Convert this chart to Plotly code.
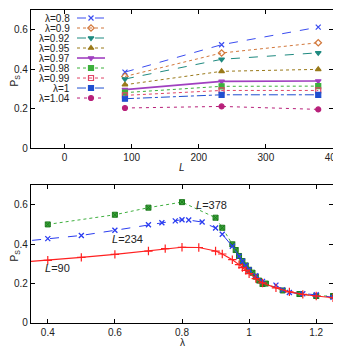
import plotly.graph_objects as go

# top panel: P_S vs L for several lambda
L_vals = [90, 234, 378]
lam_labels = ['λ=0.8', 'λ=0.9', 'λ=0.92', 'λ=0.95', 'λ=0.97', 'λ=0.98', 'λ=0.99', 'λ=1', 'λ=1.04']
ps_08 = [0.385, 0.524, 0.613]
ps_09 = [0.363, 0.482, 0.534]
ps_092 = [0.350, 0.450, 0.483]
ps_095 = [0.321, 0.389, 0.399]
ps_097 = [0.296, 0.338, 0.340]
ps_098 = [0.281, 0.313, 0.314]
ps_099 = [0.267, 0.292, 0.292]
ps_1 = [0.250, 0.270, 0.270]
ps_104 = [0.203, 0.211, 0.196]
top_series = [ps_08, ps_09, ps_092, ps_095, ps_097, ps_098, ps_099, ps_1, ps_104]

# bottom panel: P_S vs lambda for three sizes
lam_90 = [0.3, 0.4, 0.5, 0.6, 0.7, 0.75, 0.8, 0.85, 0.9, 0.92, 0.95, 0.97, 0.98, 0.99, 1.0,
          1.02, 1.04, 1.08, 1.12, 1.16, 1.2, 1.25]
ps_90 = [0.305, 0.318, 0.333, 0.348, 0.365, 0.377, 0.384, 0.383, 0.365, 0.350, 0.321, 0.296,
         0.281, 0.267, 0.250, 0.225, 0.203, 0.178, 0.158, 0.145, 0.137, 0.128]
lam_234 = [0.3, 0.4, 0.5, 0.6, 0.7, 0.74, 0.78, 0.8, 0.82, 0.86, 0.9, 0.92, 0.95, 0.97, 0.98,
           0.99, 1.0, 1.02, 1.04, 1.08, 1.1, 1.12, 1.16, 1.2, 1.25]
ps_234 = [0.41, 0.428, 0.444, 0.470, 0.498, 0.508, 0.518, 0.524, 0.522, 0.512, 0.482, 0.450,
          0.389, 0.338, 0.313, 0.292, 0.270, 0.240, 0.211, 0.192, 0.168, 0.155, 0.148, 0.143, 0.130]
lam_378 = [0.4, 0.6, 0.7, 0.8, 0.9, 0.92, 0.95, 0.96, 0.97, 0.98, 0.99, 1.0, 1.01, 1.02, 1.03,
           1.04, 1.05, 1.1, 1.15, 1.2, 1.25]
ps_378 = [0.500, 0.549, 0.585, 0.613, 0.534, 0.483, 0.399, 0.370, 0.340, 0.314, 0.292, 0.270,
          0.255, 0.235, 0.215, 0.198, 0.200, 0.165, 0.147, 0.137, 0.137]

styles = [
    dict(color='#3a4cf0', dash='dash', symbol='x-thin'),
    dict(color='#d2773a', dash='dot', symbol='diamond-open'),
    dict(color='#1f8a80', dash='dash', symbol='triangle-down'),
    dict(color='#9a7a1a', dash='dot', symbol='triangle-up'),
    dict(color='#a040c0', dash='solid', symbol='triangle-down'),
    dict(color='#3cb03c', dash='dot', symbol='square-x'),
    dict(color='#e04466', dash='dot', symbol='square-open'),
    dict(color='#1f4fd0', dash='dashdot', symbol='square'),
    dict(color='#b8207a', dash='3px,4px', symbol='circle'),
]

fig = go.Figure()
for ys, st in zip(top_series, styles):
    w = 1.6 if st['dash'] == 'solid' else 1
    fig.add_trace(go.Scatter(
        x=L_vals, y=ys, mode='lines+markers', xaxis='x', yaxis='y', showlegend=False,
        line=dict(color=st['color'], dash=st['dash'], width=w),
        marker=dict(symbol=st['symbol'], size=5, color=st['color'],
                    line=dict(color=st['color'], width=1.2))))

# hand-drawn legend (gnuplot style: label left, sample right)
for i, (lab, st) in enumerate(zip(lam_labels, styles)):
    yy = 8 + 10 * i
    w = 1.6 if st['dash'] == 'solid' else 1
    fig.add_trace(go.Scatter(
        x=[46, 74], y=[yy, yy], mode='lines', xaxis='x3', yaxis='y3', showlegend=False,
        line=dict(color=st['color'], dash=st['dash'], width=w), hoverinfo='skip'))
    fig.add_trace(go.Scatter(
        x=[60], y=[yy], mode='markers', xaxis='x3', yaxis='y3', showlegend=False,
        marker=dict(symbol=st['symbol'], size=5, color=st['color'],
                    line=dict(color=st['color'], width=1.2)), hoverinfo='skip'))
    fig.add_annotation(x=41, y=yy, xref='x3', yref='y3', text=lab, showarrow=False,
                       xanchor='right', yanchor='middle', font=dict(size=10, color='#222'))

fig.add_trace(go.Scatter(x=lam_378, y=ps_378, mode='lines+markers', xaxis='x2', yaxis='y2',
                         showlegend=False, line=dict(color='#40b040', dash='dot', width=1),
                         marker=dict(symbol='square-x', size=5, color='#3aa83a',
                                     line=dict(color='#1e7a1e', width=1))))
fig.add_trace(go.Scatter(x=lam_234, y=ps_234, mode='lines+markers', xaxis='x2', yaxis='y2',
                         showlegend=False, line=dict(color='#2a3cf0', dash='dash', width=1),
                         marker=dict(symbol='x-thin', size=5, line=dict(color='#2a3cf0', width=1.3))))
fig.add_trace(go.Scatter(x=lam_90, y=ps_90, mode='lines+markers', xaxis='x2', yaxis='y2',
                         showlegend=False, line=dict(color='#ff2020', width=1.2),
                         marker=dict(symbol='cross-thin', size=6, line=dict(color='#ff2020', width=1.2))))

for txt, xx, yy in [('<i>L</i>=378', 0.889, 0.60), ('<i>L</i>=234', 0.638, 0.428),
                    ('<i>L</i>=90', 0.429, 0.281)]:
    fig.add_annotation(x=xx, y=yy, xref='x2', yref='y2', text=txt, showarrow=False,
                       font=dict(size=11, color='#222'))

# axis titles placed as in the original (gnuplot layout)
for txt, xx, yy, rot in [('<i>L</i>', 0.5, 0.497, 0), ('λ', 0.5, -0.062, 0),
                         ('P<sub>S</sub>', -0.052, 0.776, -90), ('P<sub>S</sub>', -0.052, 0.217, -90)]:
    fig.add_annotation(x=xx, y=yy, xref='paper', yref='paper', text=txt, showarrow=False,
                       textangle=rot, xanchor='center', yanchor='middle',
                       font=dict(size=10, color='#222'))

ax = dict(showline=True, linecolor='black', linewidth=1.2, mirror='ticks', ticks='inside',
          ticklen=4, tickcolor='black', showgrid=False, zeroline=False, automargin=False,
          ticklabeloverflow='allow', tickfont=dict(size=10, color='#222'))
# the page body adds an 8px margin, so the figure is 8px smaller and shifted
fig.update_layout(
    width=333, height=342, plot_bgcolor='white', paper_bgcolor='white',
    margin=dict(l=23, r=8, t=2, b=27),
    font=dict(family='Liberation Sans, Arial, sans-serif', color='#222'),
    xaxis=dict(ax, domain=[0, 1], anchor='y', range=[-50, 400], dtick=100),
    yaxis=dict(ax, domain=[0.559, 1], anchor='x', range=[0, 0.7], dtick=0.2),
    xaxis2=dict(ax, domain=[0, 1], anchor='y2', range=[0.35, 1.25], dtick=0.2),
    yaxis2=dict(ax, domain=[0, 0.441], anchor='x2', range=[0, 0.7], dtick=0.2),
    xaxis3=dict(overlaying='x', anchor='y3', range=[0, 302], visible=False, fixedrange=True),
    yaxis3=dict(overlaying='y', anchor='x3', range=[138, 0], visible=False, fixedrange=True),
)
fig.write_html('out.html')
